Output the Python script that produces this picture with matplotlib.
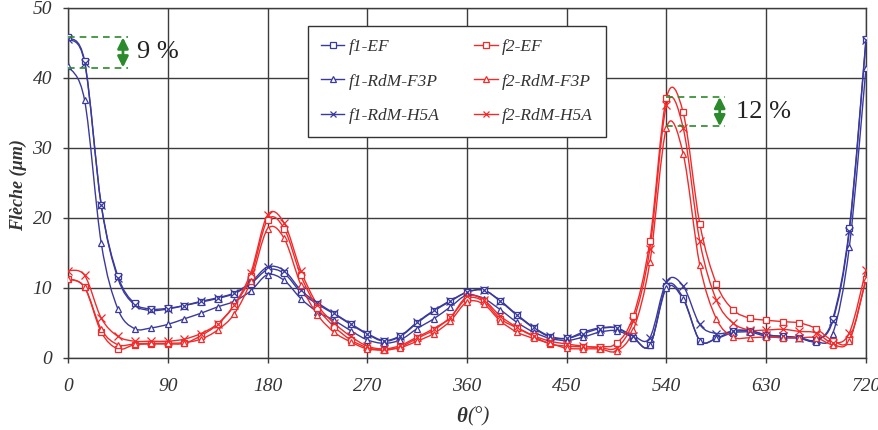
import numpy as np
import matplotlib
matplotlib.use("Agg")
import matplotlib.pyplot as plt
from matplotlib.path import Path
from matplotlib.patches import PathPatch
from matplotlib.lines import Line2D

theta = list(range(0, 721, 15))

f1_EF = [45.8, 42.4, 21.9, 11.7, 7.8, 7.0, 7.1, 7.5, 8.0, 8.5, 9.2, 10.6, 12.6, 12.1, 9.4, 7.7,
         6.3, 4.8, 3.4, 2.4, 3.1, 5.0, 6.7, 8.1, 9.4, 9.7, 8.1, 6.1, 4.3, 3.0, 2.8, 3.7,
         4.3, 4.3, 2.9, 1.8, 10.3, 8.6, 2.5, 2.8, 3.9, 3.9, 3.3, 3.1, 2.9, 2.5, 5.6, 18.6, 45.6]
f1_F3P = [41.7, 36.8, 16.4, 7.0, 4.2, 4.3, 4.8, 5.6, 6.4, 7.3, 8.1, 9.6, 11.9, 11.1, 8.5, 6.6,
          5.4, 3.9, 2.6, 2.1, 2.6, 4.2, 5.6, 7.3, 9.0, 8.5, 6.9, 5.1, 3.7, 2.8, 2.5, 3.0,
          3.7, 3.9, 2.9, 1.8, 10.0, 8.4, 2.5, 2.8, 3.6, 3.7, 3.1, 2.9, 2.8, 2.3, 3.5, 15.9, 41.5]
f1_H5A = [45.6, 42.2, 21.8, 11.4, 7.6, 6.8, 7.0, 7.5, 8.1, 8.6, 9.3, 10.8, 13.0, 12.5, 9.7, 7.9,
          6.4, 4.9, 3.5, 2.5, 3.2, 5.1, 6.8, 8.2, 9.4, 9.7, 8.2, 6.2, 4.4, 3.1, 2.8, 3.5,
          4.2, 4.3, 3.2, 2.9, 10.9, 10.3, 4.8, 3.5, 3.8, 3.9, 3.3, 3.1, 2.9, 2.6, 5.3, 18.2, 45.4]
f2_EF = [11.3, 10.1, 3.7, 1.3, 1.9, 2.0, 2.0, 2.1, 3.2, 4.8, 7.5, 11.7, 19.7, 18.5, 11.8, 7.2,
         4.5, 2.6, 1.5, 1.1, 1.6, 2.8, 4.0, 5.8, 8.5, 8.1, 5.6, 4.3, 3.1, 2.0, 1.7, 1.6,
         1.6, 2.1, 6.0, 16.7, 37.2, 35.1, 19.2, 10.6, 6.9, 5.7, 5.4, 5.2, 5.0, 4.2, 2.5, 2.6, 11.3]
f2_F3P = [11.3, 10.1, 4.1, 1.9, 2.0, 2.1, 2.1, 2.2, 2.7, 4.0, 6.3, 11.0, 18.4, 17.1, 10.5, 6.2,
          3.7, 2.3, 1.3, 1.2, 1.5, 2.4, 3.5, 5.3, 8.0, 7.7, 5.3, 3.7, 2.8, 2.1, 1.4, 1.3,
          1.3, 1.0, 4.0, 13.7, 32.9, 29.2, 13.3, 5.6, 3.0, 2.9, 3.0, 2.9, 2.9, 2.9, 1.9, 2.5, 11.3]
f2_H5A = [12.5, 11.8, 5.7, 3.1, 2.4, 2.4, 2.4, 2.7, 3.5, 4.9, 7.6, 12.2, 20.4, 19.3, 12.5, 7.6,
          5.0, 3.1, 1.7, 1.3, 1.8, 3.0, 4.2, 5.8, 8.8, 8.3, 6.0, 4.4, 3.2, 2.4, 2.0, 1.7,
          1.5, 1.5, 5.3, 15.6, 36.1, 32.9, 16.7, 8.3, 5.0, 4.0, 4.0, 4.1, 3.8, 3.6, 2.2, 3.6, 12.6]

series_names = ["f1-EF", "f1-RdM-F3P", "f1-RdM-H5A", "f2-EF", "f2-RdM-F3P", "f2-RdM-H5A"]
series_vals = [f1_EF, f1_F3P, f1_H5A, f2_EF, f2_F3P, f2_H5A]

x_ticks = [0, 90, 180, 270, 360, 450, 540, 630, 720]
y_ticks = [0, 10, 20, 30, 40, 50]

# annotation levels (from the picture)
gap1 = (45.8, 41.5, "9 %")
gap2 = (37.3, 33.1, "12 %")

BLUE = "#3a3a9e"
RED = "#f22a2a"
GREEN = "#2b8a2b"
TXT = "#333333"
colors = [BLUE, BLUE, BLUE, RED, RED, RED]
markers = ["s", "^", "x", "s", "^", "x"]

SERIF = "Liberation Serif"

fig = plt.figure(figsize=(8.79, 4.30), dpi=100)
ax = fig.add_axes([68 / 879, 1 - 358 / 430, (866 - 68) / 879, (358 - 8) / 430])


def smooth_path(xs, ys):
    xs = np.asarray(xs, float)
    ys = np.asarray(ys, float)
    n = len(xs)
    verts = [(xs[0], ys[0])]
    codes = [Path.MOVETO]
    for i in range(n - 1):
        i0 = max(i - 1, 0)
        i3 = min(i + 2, n - 1)
        c1 = (xs[i] + (xs[i + 1] - xs[i0]) / 6.0, ys[i] + (ys[i + 1] - ys[i0]) / 6.0)
        c2 = (xs[i + 1] - (xs[i3] - xs[i]) / 6.0, ys[i + 1] - (ys[i3] - ys[i]) / 6.0)
        verts += [c1, c2, (xs[i + 1], ys[i + 1])]
        codes += [Path.CURVE4] * 3
    return Path(verts, codes)


handles = []
for name, vals, c, m in zip(series_names, series_vals, colors, markers):
    patch = PathPatch(smooth_path(theta, vals), fill=False, edgecolor=c, lw=1.0, zorder=3)
    ax.add_patch(patch)
    ax.plot(theta, vals, linestyle="none", marker=m, ms=5 if m != "x" else 5.5,
            mfc="white" if m != "x" else c, mec=c, mew=0.9, zorder=4)
    handles.append(Line2D([], [], color=c, lw=1.0, marker=m, ms=5, mfc="white", mec=c, mew=0.9))

ax.set_xlim(0, 720)
ax.set_ylim(0, 50)
ax.set_xticks(x_ticks)
ax.set_yticks(y_ticks)
ax.grid(True, color="#3c3c3c", lw=1.0, zorder=1)
ax.set_axisbelow(True)
for s in ax.spines.values():
    s.set_color("#3c3c3c")
    s.set_linewidth(1.0)
ax.tick_params(direction="out", length=3.5, width=1.0, color="#3c3c3c", labelsize=14)
ax.tick_params(axis="y", pad=8)
ax.tick_params(axis="x", pad=11)
for lab in ax.get_xticklabels() + ax.get_yticklabels():
    lab.set_fontfamily(SERIF)
    lab.set_fontstyle("italic")
    lab.set_color(TXT)

fig.text(18 / 879, 1 - 185 / 430, "Flèche (µm)", rotation=90, fontfamily=SERIF,
         fontstyle="italic", fontweight="bold", fontsize=13, color=TXT,
         ha="center", va="center")

fig.text(467 / 879, 1 - 417 / 430, "θ", fontfamily=SERIF, fontstyle="italic", fontweight="bold",
         fontsize=15, ha="right", va="center", color=TXT)
fig.text(467 / 879, 1 - 417 / 430, "(°)", fontfamily=SERIF, fontstyle="italic",
         fontsize=15, ha="left", va="center", color=TXT)

leg = ax.legend(handles, series_names, ncol=2, loc="upper left",
                bbox_to_anchor=((308 - 68) / 798, 1 - (26 - 8) / 350),
                prop={"family": SERIF, "style": "italic", "size": 12.5},
                frameon=True, fancybox=False, edgecolor=TXT, framealpha=1,
                handlelength=1.35, columnspacing=2.0, labelspacing=1.05,
                borderpad=0.75, handletextpad=0.25, borderaxespad=0)
leg.get_frame().set_linewidth(1.0)
for t in leg.get_texts():
    t.set_color(TXT)
leg.set_zorder(10)


def gap(x0, x1, xa, xt, top, bot, text):
    for yv in (top, bot):
        ax.plot([x0, x1], [yv, yv], color=GREEN, lw=1.2, ls=(0, (4, 3)), zorder=5)
    ax.annotate("", xy=(xa, bot), xytext=(xa, top),
                arrowprops=dict(arrowstyle="<|-|>", color=GREEN, lw=2.0, mutation_scale=16,
                                shrinkA=0, shrinkB=0), zorder=6)
    ax.text(xt, (top + bot) / 2, text, fontfamily=SERIF, fontsize=19, ha="left", va="center",
            color="#222222", zorder=6)


gap(0, 54, 49.6, 62, gap1[0], gap1[1], gap1[2])
gap(540, 593, 588, 603, gap2[0], gap2[1], gap2[2])

fig.savefig("out.png", dpi=100)
